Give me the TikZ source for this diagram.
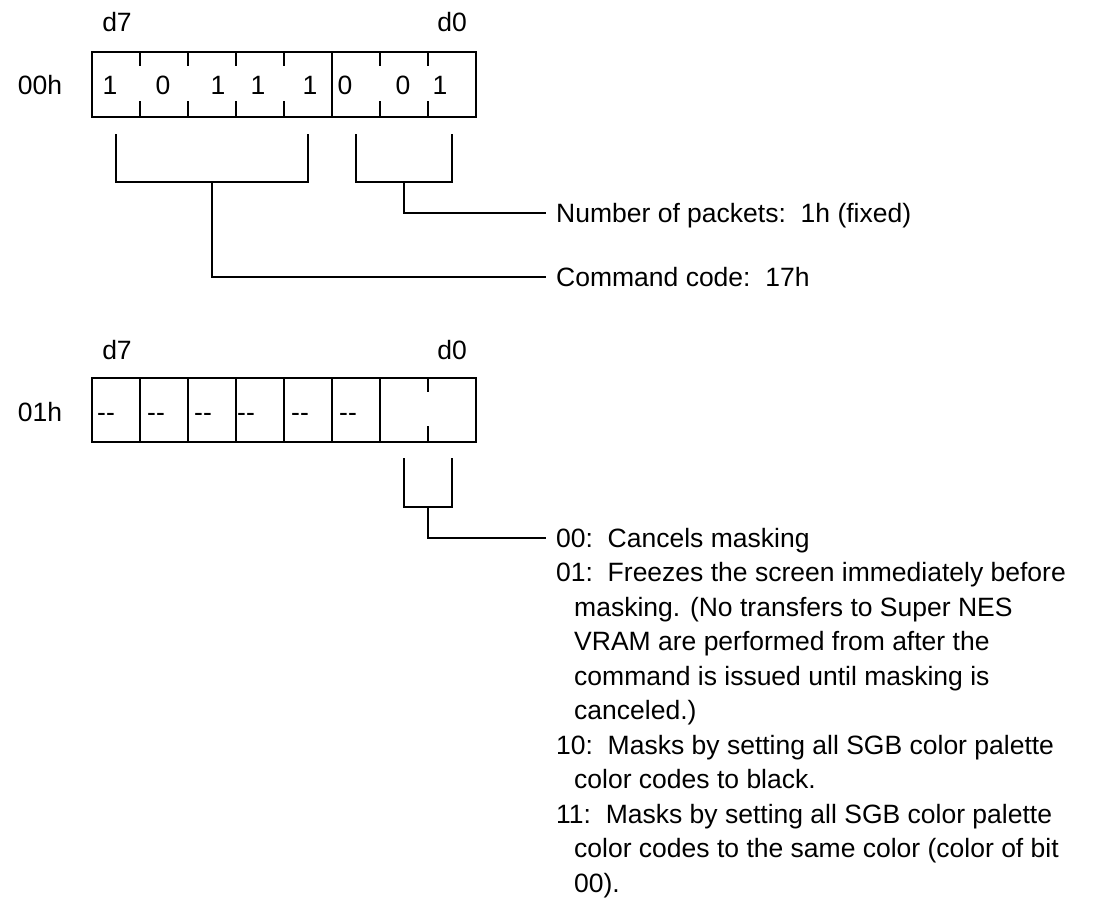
\documentclass[tikz,border=0pt]{standalone}
\usepackage{fontspec}
\setmainfont{Liberation Sans}
\usetikzlibrary{positioning,calc}
\tikzset{
  reg/.style={draw,line width=2pt},
  lbl/.style={inner sep=0pt,font=\fontsize{26.5}{34.5}\selectfont,
    text height=19pt,text depth=0pt},
  tag/.style={lbl,anchor=west,inner xsep=10pt},
}
\newcommand{\dd}{{-}{-}}

\begin{document}
\begin{tikzpicture}[x=1pt,y=-1pt]
\useasboundingbox (0,0) rectangle (1111,898);
% packet 00h
\node[lbl] (d7a) at (117,22) {d7};
\node[lbl] (d0a) at (452,22) {d0};
\node[lbl] (p00) at (40,85) {00h};
\draw[reg] (92,52) rectangle (476,117);
\foreach \x in {140,188,236,284,380,428}
  \draw[reg] (\x,52) -- ++(0,14) (\x,117) -- ++(0,-16);
\draw[reg] (332,52) -- (332,117);
\foreach \x/\b [count=\i] in {110/1,163/0,218/1,258/1,310/1,345/0,403/0,440/1}
  \node[lbl] (a\i) at (\x,85) {\b};
\node[tag] (npk) at (546,213) {Number of packets:\ \ 1h (fixed)};
\node[tag] (cmd) at (546,277) {Command code:\ \ 17h};
\draw[reg] (116,134) |- (308,182) -- (308,134);
\draw[reg] (356,134) |- (452,182) -- (452,134);
\draw[reg] (212,182) |- (cmd.west);
\draw[reg] (404,182) |- (npk.west);

% packet 01h
\node[lbl] (d7b) at (117,350) {d7};
\node[lbl] (d0b) at (452,350) {d0};
\node[lbl] (p01) at (40,412) {01h};
\draw[reg] (92,378) rectangle (476,442);
\foreach \x in {140,188,236,284,332,380}
  \draw[reg] (\x,378) -- (\x,442);
\draw[reg] (428,378) -- ++(0,14) (428,442) -- ++(0,-16);
\foreach \x [count=\i] in {97,147,194,237,291,339}
  \node[lbl,anchor=west] (b\i) at (\x,412) {\dd};
\draw[reg] (404,458) |- (452,507) -- (452,458);
\coordinate (mtip) at (546,538);
\draw[reg] (428,507) |- (mtip);
\node[lbl,text height=,anchor=north west,align=left] (modes) at (556,528)
  {00:\ \ Cancels masking\\
   01:\ \ Freezes the screen immediately before\\
   \hspace*{18pt}masking. (No transfers to Super NES\\
   \hspace*{18pt}VRAM are performed from after the\\
   \hspace*{18pt}command is issued until masking is\\
   \hspace*{18pt}canceled.)\\
   10:\ \ Masks by setting all SGB color palette\\
   \hspace*{18pt}color codes to black.\\
   11:\ \ Masks by setting all SGB color palette\\
   \hspace*{18pt}color codes to the same color (color of bit\\
   \hspace*{18pt}00).};
\end{tikzpicture}
\end{document}
